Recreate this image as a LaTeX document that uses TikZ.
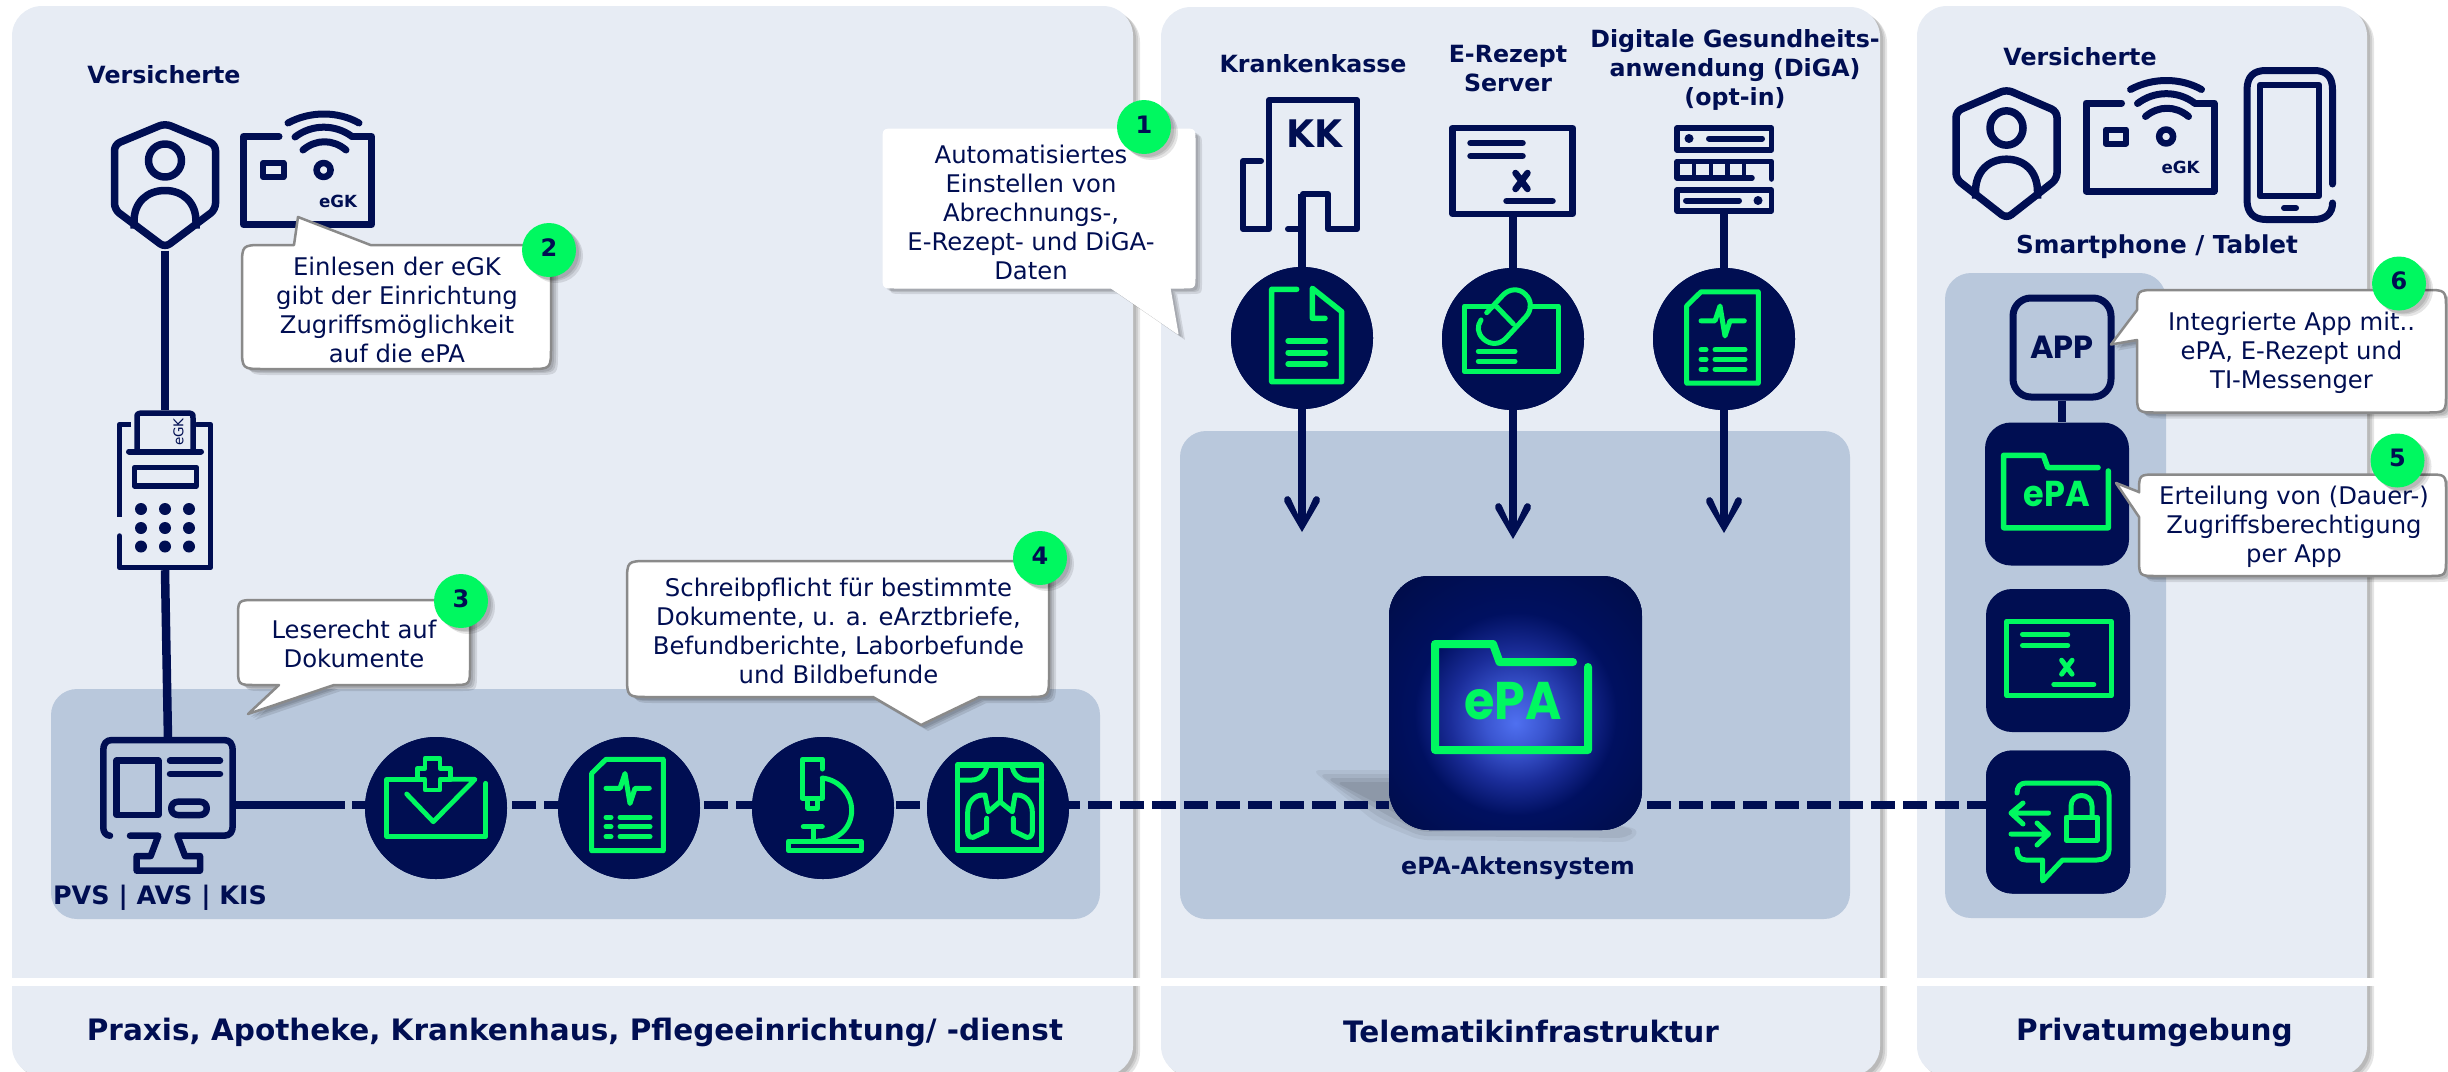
\documentclass[tikz,border=0pt]{standalone}
\usepackage{fontspec}
\setmainfont{DejaVu Sans}
\newfontfamily\popf{Poppins}
\usetikzlibrary{arrows.meta}
\definecolor{navy}{HTML}{000E52}
\definecolor{epagreen}{HTML}{00F860}
\definecolor{panelbg}{HTML}{E7ECF4}
\definecolor{innerbg}{HTML}{B9C8DC}
\definecolor{calloutgray}{HTML}{8A8A8A}
\definecolor{glowa}{HTML}{4F70F0}
\definecolor{glowb}{HTML}{3A55D0}
\definecolor{glowc}{HTML}{1A2C98}
\definecolor{glowd}{HTML}{001060}
\definecolor{glowe}{HTML}{000E50}
\definecolor{glowf}{HTML}{000838}
\pgfdeclareradialshading{eglow}{\pgfpoint{0bp}{-4bp}}{color(0bp)=(glowa);color(6bp)=(glowb);color(13bp)=(glowc);color(20bp)=(glowd);color(30bp)=(glowe);color(43bp)=(glowf)}
\tikzset{
 softshadow/.style={
  preaction={fill=black,fill opacity=.10,draw=none,transform canvas={shift={(3pt,-3pt)}}},
  preaction={fill=black,fill opacity=.10,draw=none,transform canvas={shift={(5pt,-4pt)}}},
  preaction={fill=black,fill opacity=.10,draw=none,transform canvas={shift={(7pt,-6pt)}}}},
 panelbox/.style={fill=panelbg,rounded corners=30pt,softshadow},
 innerbox/.style={fill=innerbg,rounded corners=26pt},
 divider/.style={fill=white},
 callout/.style={fill=white,draw=calloutgray,line width=2.5pt,line join=round,softshadow},
 calloutplain/.style={fill=white,draw=white,line width=1pt,line join=round,softshadow},
 calltext/.style={text=navy,align=center,inner sep=0pt,font=\fontsize{24.3}{29}\selectfont},
 boldlbl/.style={text=navy,align=center,inner sep=0pt,font=\bfseries\fontsize{23.7}{29}\selectfont},
 titlelbl/.style={text=navy,align=center,inner sep=0pt,font=\bfseries\fontsize{29.5}{36}\selectfont},
 numdisc/.style={circle,fill=epagreen,text=navy,minimum size=54pt,inner sep=0pt,font=\bfseries\fontsize{24}{28}\selectfont,softshadow},
 disc/.style={circle,fill=navy,minimum size=142pt,inner sep=0pt},
 darkbox/.style={rectangle,fill=navy,rounded corners=26pt,minimum width=144pt,minimum height=143pt,inner sep=0pt},
 iconbox/.style={rectangle,inner sep=0pt,minimum size=10pt},
 navline/.style={draw=navy,line width=#1,line join=round,line cap=round},
 grline/.style={draw=epagreen,line width=#1,line join=round,line cap=round},
 wire/.style={draw=navy,line width=8.5pt},
 dashwire/.style={draw=navy,line width=8.5pt,dash pattern=on 24pt off 8pt},
 flow/.style={draw=navy,line width=8.5pt},
 epaglow/.style={rectangle,rounded corners=40pt,minimum width=253pt,minimum height=254pt,inner sep=0pt,shade,shading=eglow},
}
\newcommand\cpath[9]{({#1},{#2+#5}) .. controls (#1,#2) .. ({#1+#5},#2) #6 -- ({#3-#5},#2) .. controls (#3,#2) .. (#3,{#2+#5}) #7 -- (#3,{#4-#5}) .. controls (#3,#4) .. ({#3-#5},#4) #8 -- ({#1+#5},#4) .. controls (#1,#4) .. (#1,{#4-#5}) #9 -- cycle}
\newcommand\flowhead[1]{\begin{scope}[shift={(#1)}]
 \fill[navy] (0,0) -- (17.5,-30) .. controls (19.5,-35) and (14,-38) .. (11.5,-34) -- (4.2,-18) -- (-4.2,-18) -- (-11.5,-34) .. controls (-14,-38) and (-19.5,-35) .. (-17.5,-30) -- cycle;
\end{scope}}
\newcommand\shieldicon[3]{\begin{scope}[shift={(#1,#2)},yscale=#3]
 \draw[navline=7.5pt,rounded corners=6pt] (0,-62) -- (50.5,-41) -- (50.5,24) -- (0,62) -- (-50.5,24) -- (-50.5,-41) -- cycle;
 \draw[navline=7.5pt] (0,-25) circle[radius=16.5];
 \draw[navline=7.5pt,line cap=butt] (-31,43) -- (-31,36) .. controls (-31,17) and (-18,5) .. (0,5) .. controls (18,5) and (31,17) .. (31,36) -- (31,43);
\end{scope}}
\newcommand\cardicon[3]{\begin{scope}[shift={(#1,#2)}]
 \draw[navline=7pt] (39,3.5) -- (3.5,3.5) -- (3.5,91.5) -- (131.5,91.5) -- (131.5,3.5) -- (112,3.5);
 \draw[navline=7pt] (48,-10) .. controls (70,-22) and (98,-22) .. (119,-10);
 \draw[navline=7pt] (55,4) .. controls (72,-9) and (95,-9) .. (112,3.5);
 \draw[navline=7pt] (63,17) .. controls (76,6) and (93,6) .. (106,17);
 \draw[navline=6.5pt] (83.6,37) circle[radius=7];
 \draw[navline=6pt] (23,30) rectangle (43.5,44);
 \node[text=navy,inner sep=0pt,font=\bfseries\fontsize{16.7}{18}\selectfont] (#3) at (98,68) {eGK};
\end{scope}}
\newcommand\docecg[3]{\begin{scope}[shift={(#1,#2)},scale=#3]
 \draw[grline=5pt,line cap=butt] (-22,-46.2) -- (35.3,-46.2) -- (35.3,45.2) -- (-36.3,45.2) -- (-36.3,-32.2) -- cycle;
 \draw[grline=5pt] (-22,-17.2) -- (-8,-17.2) -- (-3,-32) -- (2,-2) -- (7,-17.2) -- (21.3,-17.2);
 \draw[grline=5pt] (-8,11.8) -- (22,11.8) (-8,21.2) -- (22,21.2) (-8,31.2) -- (22,31.2);
 \draw[grline=5pt] (-22,11.8) -- (-17,11.8) (-22,21.2) -- (-17,21.2) (-22,31.2) -- (-17,31.2);
\end{scope}}
\newcommand\rezepticon[5]{\begin{scope}[shift={(#1,#2)},scale=#3]
 \draw[#4=#5,line cap=butt] (-60,-43) rectangle (60,43);
 \draw[#4=#5] (-42,-28) -- (10,-28) (-42,-15) -- (10,-15);
 \draw[#4=#5] (3,2) -- (15,18) (15,2) -- (3,18);
 \draw[#4=#5] (-6,30) -- (40,30);
\end{scope}}
\newcommand\foldericon[6]{\begin{scope}[shift={(#1,#2)},scale=#3]
 \draw[grline=#4] (60,-35) -- (-13.5,-35) -- (-20,-53) -- (-78,-53) -- (-78,53) -- (75,53) -- (75,-30);
 \node[text=epagreen,inner sep=0pt,font=\popf\bfseries\fontsize{#6}{#6}\selectfont] (#5) at (0,4) {\scalebox{.93}[1]{ePA}};
\end{scope}}
\begin{document}
\begin{tikzpicture}[x=1pt,y=-1pt]
\useasboundingbox (0,0) rectangle (2448,1071);
% panels
\path[panelbox] (12,6) rectangle (1133,1076);
\path[panelbox] (1161,7) rectangle (1880,1076);
\path[panelbox] (1917,6) rectangle (2367,1076);
\path[divider] (12,978) rectangle (1143,986);
\path[divider] (1161,978) rectangle (1892,986);
\path[divider] (1917,978) rectangle (2378,986);
\path[innerbox] (51,689) rectangle (1100,919);
\path[innerbox] (1180,431) rectangle (1850,919);
\path[innerbox] (1945,273) rectangle (2166,918);
% shadow under ePA box
\fill[black,opacity=.05,rounded corners=8pt] (1312,770) -- (1400,770) -- (1640,830) -- (1630,842) -- (1420,840) -- (1375,822) -- cycle;
\fill[black,opacity=.06,rounded corners=8pt] (1318,774) -- (1400,774) -- (1636,830) -- (1626,838) -- (1420,836) -- (1380,818) -- cycle;
\fill[black,opacity=.07,rounded corners=8pt] (1326,778) -- (1400,778) -- (1600,828) -- (1420,832) -- (1385,814) -- cycle;
\fill[black,opacity=.07,rounded corners=8pt] (1335,782) -- (1400,782) -- (1500,820) -- (1420,828) -- (1390,810) -- cycle;
% nodes
\node[iconbox,minimum width=108pt,minimum height=130pt] (shieldA) at (165,185.5) {};
\node[iconbox,minimum width=96pt,minimum height=160pt] (terminal) at (165,490) {};
\node[iconbox,minimum width=129pt,minimum height=96pt] (monitor) at (168,788) {};
\node[disc] (dA) at (436,808) {};
\node[disc] (dB) at (629,808) {};
\node[disc] (dC) at (823,808) {};
\node[disc] (dD) at (998,808) {};
\node[disc] (dK) at (1302,338) {};
\node[disc] (dR) at (1513,339) {};
\node[disc] (dG) at (1724,339) {};
\node[iconbox,minimum width=127pt,minimum height=90pt] (rezept) at (1513,171) {};
\node[iconbox,minimum width=100pt,minimum height=89pt] (server) at (1724,169.5) {};
\coordinate (kkfoot) at (1302,194);
\coordinate (tipK) at (1302,532);
\coordinate (tipR) at (1513,539);
\coordinate (tipG) at (1724,533);
\coordinate (stemK) at (1302,516);
\coordinate (stemR) at (1513,523);
\coordinate (stemG) at (1724,517);
\coordinate (busline) at (0,805);
\coordinate (solidend) at (345,805);
\coordinate (dashstart) at (352,805);
\node[epaglow,fill=navy] (epa) at (1515.5,703) {};
\node[iconbox,rectangle,draw=navy,line width=7pt,fill=innerbg,rounded corners=18pt,minimum width=98pt,minimum height=99pt,text=navy,font=\popf\bfseries\fontsize{32}{34}\selectfont] (app) at (2062,347.5) {APP};
\node[darkbox] (bE) at (2057,494) {};
\node[darkbox] (bR) at (2058,660.5) {};
\node[darkbox] (bL) at (2058,822) {};
% connectors
\draw[wire] (shieldA.south) -- (terminal.north);
\draw[wire] (terminal.south) -- (monitor.north);
\draw[wire] (monitor.east |- busline) -- (solidend);
\draw[dashwire] (dashstart) -- (epa.west |- busline);
\draw[dashwire,dash phase=27pt] (epa.east |- busline) -- (bL.west |- busline);
\draw[wire] (app.south) -- (app.south |- bE.north);
\draw[flow] (kkfoot) -- (stemK);
\draw[flow] (rezept.south) -- (stemR);
\draw[flow] (server.south) -- (stemG);
\flowhead{tipK}
\flowhead{tipR}
\flowhead{tipG}
% re-cover with discs and boxes
\node[disc] (dA2) at (dA) {};\node[disc] (dB2) at (dB) {};\node[disc] (dC2) at (dC) {};\node[disc] (dD2) at (dD) {};
\node[disc] (dK2) at (dK) {};\node[disc] (dR2) at (dR) {};\node[disc] (dG2) at (dG) {};
\node[epaglow] (epa2) at (epa) {};
\node[darkbox] (bL2) at (bL) {};
% person + card icons
\shieldicon{165}{185.5}{1}
\cardicon{240}{133}{egkA}
\shieldicon{2006.5}{154}{1.04}
\cardicon{2082.5}{99.5}{egkB}
% phone
\draw[navline=7pt] (2332.5,184) -- (2332.5,90) .. controls (2332.5,76) and (2326,70.5) .. (2314,70.5) -- (2266,70.5) .. controls (2254,70.5) and (2247,76) .. (2247,90) -- (2247,200) .. controls (2247,213) and (2254,219.5) .. (2266,219.5) -- (2314,219.5) .. controls (2326,219.5) and (2332.5,213) .. (2332.5,203);
\draw[navline=6.5pt] (2260,85) rectangle (2319,196);
\draw[navline=6pt] (2284,208) -- (2296,208);
% terminal
\draw[navline=5.5pt,line cap=butt] (131,424.5) -- (119.5,424.5) -- (119.5,517);
\draw[navline=5.5pt] (119.5,536) -- (119.5,567.5) -- (210.5,567.5) -- (210.5,424.5) -- (197,424.5);
\draw[navline=5.5pt] (137,450) -- (137,418) .. controls (137,414) .. (141,413) -- (189,413) .. controls (193,414) .. (193,418) -- (193,450);
\draw[navline=6pt] (129,451.5) -- (201,451.5);
\draw[navline=5.5pt] (134.5,467.5) rectangle (196.5,486);
\foreach \gx in {141,165,189}{\foreach \gy in {509,528,546.5}{\fill[navy] (\gx,\gy) circle[radius=6];}}
\node[text=navy,rotate=90,inner sep=0pt,font=\fontsize{13.5}{15}\selectfont] (egkT) at (178.5,432) {eGK};
% monitor
\draw[navline=6.5pt] (110,835.7) .. controls (106,835.7) and (103.3,832) .. (103.3,828) -- (103.3,750) .. controls (103.3,744) and (106,740) .. (112,740) -- (224,740) .. controls (230,740) and (232.7,744) .. (232.7,750) -- (232.7,826) .. controls (232.7,832) and (230,835.7) .. (224,835.7) -- (177.3,835.7) -- (185,856) -- (200,856) -- (200,870.7) -- (136.7,870.7) -- (136.7,856) -- (150.7,856) -- (158.3,835.7) -- (130,835.7);
\draw[navline=6.5pt] (116.7,760.7) rectangle (158.3,815);
\draw[navline=6.5pt] (170,760.7) -- (220,760.7) (170,774) -- (220,774);
\draw[navline=6.5pt] (178,801.7) -- (200,801.7) .. controls (209,801.7) and (209,815) .. (200,815) -- (178,815) .. controls (169,815) and (169,801.7) .. (178,801.7) -- cycle;
% KK building
\draw[navline=6pt] (1269,225) -- (1269,100) -- (1357,100) -- (1357,229) -- (1328,229) -- (1328,194) -- (1303,194) -- (1303,229) -- (1288,229);
\draw[navline=6pt] (1261,161) -- (1243,161) -- (1243,229) -- (1269,229) -- (1269,225);
\node[text=navy,inner sep=0pt,font=\bfseries\fontsize{38}{38}\selectfont] (kkt) at (1314,134) {\scalebox{.95}[1]{KK}};
% rezept server
\rezepticon{1512.5}{171}{1}{navline}{6.5pt}
% server stack
\draw[navline=5.5pt] (1677,128) rectangle (1771.5,150);
\draw[navline=5.5pt] (1677,190) rectangle (1771.5,211);
\draw[navline=5.5pt] (1752,178) -- (1677,178) -- (1677,161.5) -- (1771.5,161.5) -- (1771.5,179);
\draw[navline=4.5pt] (1694,161.5) -- (1694,178) (1711,161.5) -- (1711,178) (1727.5,161.5) -- (1727.5,178) (1744,161.5) -- (1744,178);
\draw[navline=6pt] (1709,138.5) -- (1762,138.5) (1686,200.5) -- (1739,200.5);
\fill[navy] (1689,138.5) circle[radius=4.5] (1758,200.5) circle[radius=4.5];
% green icons
% A: health tray
\draw[grline=4.8pt] (417.3,779.3) -- (386.7,779.3) -- (386.7,836.7) -- (485.7,836.7) -- (485.7,783.3);
\draw[grline=4.8pt] (406.7,794) -- (433.3,821.7) -- (475,779.3) -- (450.7,779.3);
\draw[grline=4.8pt] (425,790) -- (425,779.3) -- (417.3,779.3) -- (417.3,768.3) -- (425,768.3) -- (425,758.3) -- (440,758.3) -- (440,768.3) -- (450.7,768.3) -- (450.7,779.3) -- (440,779.3) -- (440,790) -- cycle;
\docecg{628}{805.5}{1}
% C: microscope
\draw[grline=5pt] (822.3,769) -- (822.3,759.3) -- (802.3,759.3) -- (802.3,798.3) -- (822.3,798.3) -- (822.3,779);
\draw[grline=4.5pt] (807.7,798.3) rectangle (817.7,808.3);
\draw[grline=5pt] (822.3,778) .. controls (840,780) and (851.7,795) .. (851.7,810) .. controls (851.7,828) and (838,841) .. (818,841);
\draw[grline=5pt] (788.3,841) rectangle (861,850.7);
\draw[grline=5pt] (813.3,826.7) -- (813.3,841) (803.3,826.7) -- (822.3,826.7);
% D: x-ray
\draw[grline=5.5pt] (957.3,765) rectangle (1041.7,850);
\draw[grline=5pt] (957.3,780) -- (972,780) .. controls (980,780) and (986.7,773) .. (986.7,765);
\draw[grline=5pt] (1041.7,780) -- (1027,780) .. controls (1019,780) and (1012.3,773) .. (1012.3,765);
\draw[grline=5pt] (1000,765) -- (1000,801.7);
\draw[grline=5pt] (986.7,818.3) -- (986.7,831) -- (973.3,837.3) .. controls (970,838) and (967.7,835) .. (967.7,831.7) -- (967.7,812) .. controls (967.7,802) and (975,794) .. (985,795) -- (988.3,811.7) -- (1000,801.7) -- (1012.3,811.7) -- (1015,795) .. controls (1025,794) and (1032.3,802) .. (1032.3,812) -- (1032.3,831.7) .. controls (1032.3,835) and (1030,838) .. (1026.7,837.3) -- (1013.3,831) -- (1013.3,818.3);
% K: document
\draw[grline=5.5pt] (1296.7,289.3) -- (1271.7,289.3) -- (1271.7,381.7) -- (1341.7,381.7) -- (1341.7,311.7) -- (1312.3,288.3) -- (1312.3,318.3) -- (1325,318.3);
\draw[grline=6pt] (1288.3,341) -- (1325,341) (1288.3,352.7) -- (1325,352.7) (1288.3,364) -- (1325,364);
% R: pill card
\draw[grline=5pt] (1493.3,306) -- (1464.3,306) -- (1464.3,371.7) -- (1558.3,371.7) -- (1558.3,306) -- (1530,306);
\draw[grline=5pt] (1478.3,351.3) -- (1515,351.3) (1478.3,361.3) -- (1515,361.3);
\draw[grline=5pt] (1486.7,312.7) -- (1502.8,295.3) .. controls (1509,288.5) and (1519,288) .. (1525,294) .. controls (1532,300) and (1532,310) .. (1525.8,316.7) -- (1505.8,338.4) .. controls (1499.5,345) and (1490,345) .. (1483.5,339) .. controls (1477,333) and (1477,326) .. (1481,320);
\draw[grline=5pt] (1496.7,306.7) -- (1513.3,324);
\docecg{1723}{338}{1}
\foldericon{1513}{697}{1}{8pt}{epaT}{53}
\foldericon{2057}{491.5}{.684}{5.5pt}{epaS}{36}
\rezepticon{2059}{658.5}{.87}{grline}{5pt}
% lock chat
\draw[grline=5pt] (2017,793) .. controls (2017,787) and (2020,783) .. (2026,783) -- (2097,783) .. controls (2104,783) and (2109,788) .. (2109,795) -- (2109,850) .. controls (2109,856) and (2104,860) .. (2097,860) -- (2062.5,860) -- (2042.6,881) -- (2042.6,860) -- (2026,860) .. controls (2020,860) and (2017,856) .. (2017,849);
\draw[grline=5pt] (2048.5,813) -- (2011,813) (2023,803) -- (2011,813) -- (2023,824);
\draw[grline=5pt] (2011,834) -- (2048.5,834) (2037,823) -- (2048.5,834) -- (2037,845);
\draw[grline=5pt] (2066,817) rectangle (2097,840);
\draw[grline=5pt] (2071,817) -- (2071,806) .. controls (2071,792) and (2092,792) .. (2092,806) -- (2092,817);
% labels
\node[boldlbl] (lV) at (164,75) {Versicherte};
\node[boldlbl] (lVb) at (2080,56.5) {Versicherte};
\node[boldlbl,font=\bfseries\fontsize{24.7}{29}\selectfont] (lS) at (2157,247) {Smartphone / Tablet};
\node[boldlbl] (lK) at (1313,63.5) {Krankenkasse};
\node[boldlbl] (lR) at (1508,68.5) {E-Rezept\\Server};
\node[boldlbl] (lD) at (1735,69.5) {Digitale Gesundheits-\\anwendung (DiGA)\\(opt-in)};
\node[boldlbl,font=\bfseries\fontsize{25.4}{29}\selectfont] (lP) at (160,898) {PVS | AVS | KIS};
\node[boldlbl] (lA) at (1518,868.5) {ePA-Aktensystem};
\node[titlelbl] (t1) at (575,1032) {Praxis, Apotheke, Krankenhaus, Pflegeeinrichtung/ -dienst};
\node[titlelbl] (t2) at (1531,1031) {Telematikinfrastruktur};
\node[titlelbl] (t3) at (2154.5,1032) {Privatumgebung};
% callouts
\draw[calloutplain] \cpath{883}{129}{1195}{288}{12}{}{}{-- (1170,288) -- (1178,334) -- (1111,288)}{};
\node[calltext] (n1) at (1031,212.5) {Automatisiertes\\Einstellen von\\Abrechnungs-,\\E-Rezept- und DiGA-\\Daten};
\node[numdisc] (c1) at (1144,127) {\raisebox{5pt}{1}};
\draw[callout] \cpath{242}{245}{551}{369}{22}{-- (294,245) -- (298,217) -- (370.5,245)}{}{}{};
\node[calltext] (n2) at (397,309.5) {Einlesen der eGK\\gibt der Einrichtung\\Zugriffsmöglichkeit\\auf die ePA};
\node[numdisc] (c2) at (549,250) {\raisebox{5pt}{2}};
\draw[callout] \cpath{238}{600}{470}{685}{18}{}{}{-- (334,685) -- (248,714) -- (279,685)}{};
\node[calltext] (n3) at (354,644) {Leserecht auf\\Dokumente};
\node[numdisc] (c3) at (461,601) {\raisebox{5pt}{3}};
\draw[callout] \cpath{627}{561}{1049}{697}{22}{}{}{-- (979.5,697) -- (921,725) -- (873,697)}{};
\node[calltext] (n4) at (838.5,630.5) {Schreibpflicht für bestimmte\\Dokumente, u. a. eArztbriefe,\\Befundberichte, Laborbefunde\\und Bildbefunde};
\node[numdisc] (c4) at (1040,558) {\raisebox{5pt}{4}};
\draw[callout] \cpath{2139}{474.5}{2446}{576}{18}{}{}{}{-- (2139,517) -- (2116,483) -- (2139,492)};
\node[calltext] (n5) at (2294,527) {Erteilung von (Dauer-)\\Zugriffsberechtigung\\per App};
\node[numdisc] (c5) at (2397.5,460.5) {\raisebox{5pt}{5}};
\draw[callout] \cpath{2137}{290}{2446}{412.5}{20}{}{}{}{-- (2137,340) -- (2111,344.5) -- (2137,310)};
\node[calltext] (n6) at (2291.5,352.5) {Integrierte App mit..\\ePA, E-Rezept und\\TI-Messenger};
\node[numdisc] (c6) at (2399,283.5) {\raisebox{5pt}{6}};
\end{tikzpicture}
\end{document}
